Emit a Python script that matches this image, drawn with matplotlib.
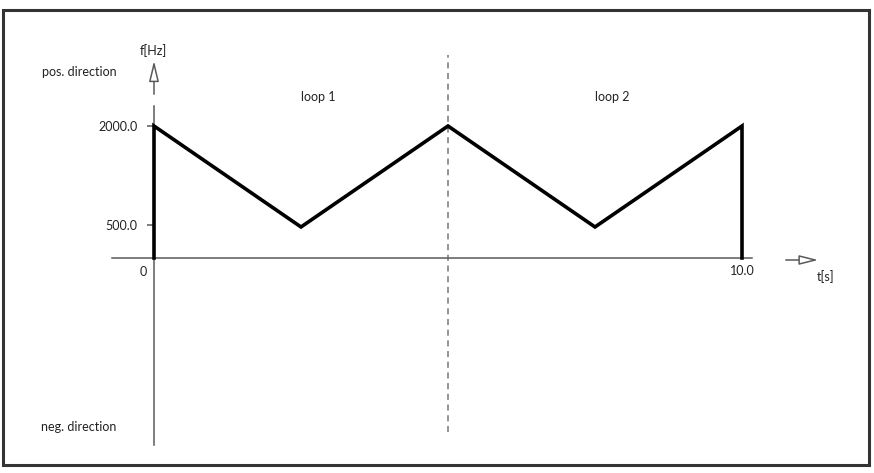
import numpy as np
import matplotlib.pyplot as plt
from matplotlib.patches import Rectangle, FancyArrowPatch

plt.rcParams['font.family'] = ['Lato', 'DejaVu Sans']

# frequency profile over two loops
t_points = [0, 0, 2.5, 5, 7.5, 10, 10]
f_points = [0, 2000, 470, 2000, 470, 2000, 0]
loop_boundary = 5.0
loop_names = ["loop 1", "loop 2"]
loop_centers = [2.8, 7.8]
y_ticks = [500, 2000]
y_tick_labels = ["500.0", "2000.0"]
t_end = 10.0

# scale of the diagram (pixels per unit)
px_per_s = 58.8
px_per_hz = 132 / 2000
x0_px, y0_px = 154, 258
W, H = 874, 473

def X(px):
    return (px - x0_px) / px_per_s

def Y(py):
    return (y0_px - py) / px_per_hz

fig = plt.figure(figsize=(W / 100, H / 100), dpi=100)
ax = fig.add_axes([0, 0, 1, 1])
ax.set_xlim(X(0), X(W))
ax.set_ylim(Y(H), Y(0))

axis_col = "#5a5a5a"
txt_col = "#222222"
fs = 9

# outer frame
ax.add_patch(Rectangle((3 / W, 1 - 465 / H), 866 / W, 455 / H, transform=ax.transAxes,
                       fill=False, ec="#333333", lw=2.2, clip_on=False))

# axes as spines through the origin
for s in ["top", "right"]:
    ax.spines[s].set_visible(False)
ax.spines["left"].set_position(("data", 0))
ax.spines["bottom"].set_position(("data", 0))
ax.spines["left"].set_bounds(Y(445), Y(106))
ax.spines["bottom"].set_bounds(X(112), X(752))
for s in ["left", "bottom"]:
    ax.spines[s].set_color(axis_col)
    ax.spines[s].set_linewidth(1.1)

ax.set_yticks(y_ticks, y_tick_labels)
ax.tick_params(axis="y", direction="out", length=5, width=1.1, color=axis_col,
               labelsize=fs, labelcolor=txt_col, pad=7)
ax.set_xticks([])

# axis arrows with hollow heads
ax.add_patch(FancyArrowPatch((0, Y(97)), (0, Y(58)), arrowstyle="-|>,head_length=12.5,head_width=3.0",
                             mutation_scale=1, lw=1.1, ec=axis_col, fc="white"))
ax.add_patch(FancyArrowPatch((X(783), 0 - 2 / px_per_hz), (X(821), 0 - 2 / px_per_hz),
                             arrowstyle="-|>,head_length=11.5,head_width=2.9",
                             mutation_scale=1, lw=1.1, ec=axis_col, fc="white"))

# frequency profile
ax.plot(t_points, f_points, color="black", lw=2.6, solid_joinstyle="miter", zorder=3)

# loop separator
ax.plot([loop_boundary, loop_boundary], [Y(432), Y(55)], color="#777777", lw=1.1,
        ls=(0, (4, 3)), zorder=2)

for name, c in zip(loop_names, loop_centers):
    ax.text(c, Y(97), name, ha="center", va="center", fontsize=fs, color=txt_col)

ax.text(X(143), Y(272), "0", ha="center", va="center", fontsize=fs, color=txt_col)
ax.text(t_end, Y(271), "10.0", ha="center", va="center", fontsize=fs, color=txt_col)
ax.text(X(826), Y(277), "t[s]", ha="center", va="center", fontsize=fs, color=txt_col)
ax.text(X(153), Y(51), "f[Hz]", ha="center", va="center", fontsize=fs, color=txt_col)
ax.text(X(79), Y(72), "pos. direction", ha="center", va="center", fontsize=fs, color=txt_col)
ax.text(X(79), Y(427), "neg. direction", ha="center", va="center", fontsize=fs, color=txt_col)

fig.savefig("out.png", dpi=100)
